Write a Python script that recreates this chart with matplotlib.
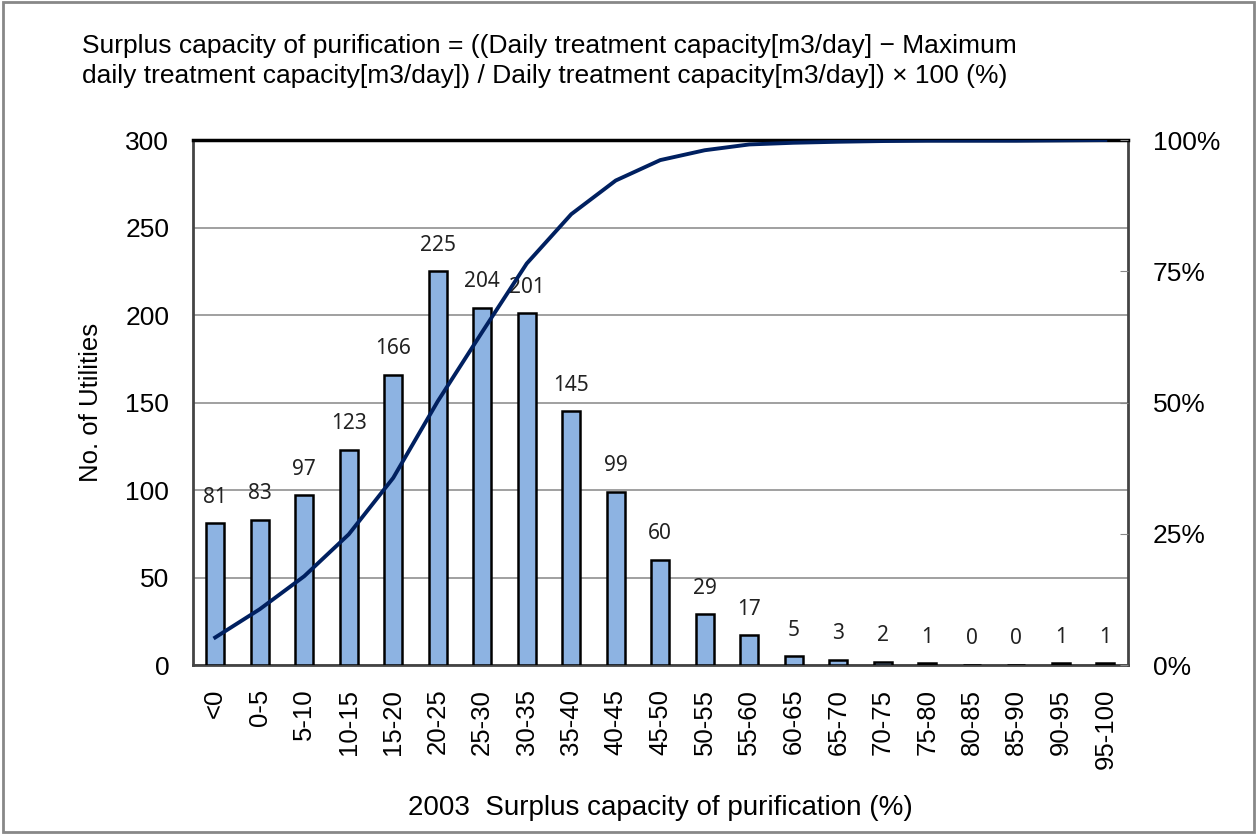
import matplotlib.pyplot as plt
import numpy as np

# categories and counts
categories = ['<0', '0-5', '5-10', '10-15', '15-20', '20-25', '25-30', '30-35', '35-40',
              '40-45', '45-50', '50-55', '55-60', '60-65', '65-70', '70-75', '75-80',
              '80-85', '85-90', '90-95', '95-100']
counts = [81, 83, 97, 123, 166, 225, 204, 201, 145, 99, 60, 29, 17, 5, 3, 2, 1, 0, 0, 1, 1]

yticks_left = [0, 50, 100, 150, 200, 250, 300]
yticks_right = [0, 0.25, 0.5, 0.75, 1.0]
yticklabels_right = ['0%', '25%', '50%', '75%', '100%']

cum = np.cumsum(counts) / np.sum(counts)

plt.rcParams['font.family'] = ['Liberation Sans', 'DejaVu Sans']

fig = plt.figure(figsize=(12.57, 8.34), dpi=100)
ax = fig.add_axes([0.1535, 0.2026, 0.7435, 0.6295])
x = np.arange(len(categories))

ax.bar(x, counts, width=0.4, color='#8db3e2', edgecolor='black', linewidth=1.8, zorder=3)
for xi, c in zip(x, counts):
    ax.text(xi, c + 9, str(c), ha='center', va='bottom', fontsize=15,
            family='Noto Sans', color='#222222')

ax.set_xlim(-0.5, len(categories) - 0.5)
ax.set_ylim(0, 300)
ax.set_yticks(yticks_left)
ax.tick_params(axis='y', labelsize=19, length=0, pad=17)
ax.set_xticks(x)
ax.set_xticklabels(categories, rotation=90, fontsize=18.5)
ax.tick_params(axis='x', length=0, pad=17)
ax.grid(axis='y', color='#999999', linewidth=1.3, zorder=0)
for s in ['left', 'bottom', 'right']:
    ax.spines[s].set_color('#444444')
    ax.spines[s].set_linewidth(2)
ax.spines['top'].set_color('black')
ax.spines['top'].set_linewidth(2.5)

ax.set_ylabel('No. of Utilities', fontsize=18.5, labelpad=16)
ax.set_xlabel('2003  Surplus capacity of purification (%)', fontsize=20, labelpad=19)

ax2 = ax.twinx()
ax2.plot(x, cum, color='#002060', linewidth=2.8, zorder=4)
ax2.set_ylim(0, 1)
ax2.set_yticks(yticks_right)
ax2.set_yticklabels(yticklabels_right)
ax2.tick_params(axis='y', direction='in', length=6, color='#888888', labelsize=19, pad=18)
for s in ax2.spines.values():
    s.set_visible(False)

fig.text(0.065, 0.927, 'Surplus capacity of purification = ((Daily treatment capacity[m3/day] \u2212 Maximum\n'
         'daily treatment capacity[m3/day]) / Daily treatment capacity[m3/day]) \u00d7 100 (%)',
         fontsize=19, va='center', ha='left', linespacing=1.3)

fig.patches.append(plt.Rectangle((0.002, 0.002), 0.996, 0.996, transform=fig.transFigure,
                                 fill=False, edgecolor='#888888', linewidth=2))

plt.savefig('out.png', dpi=100)
